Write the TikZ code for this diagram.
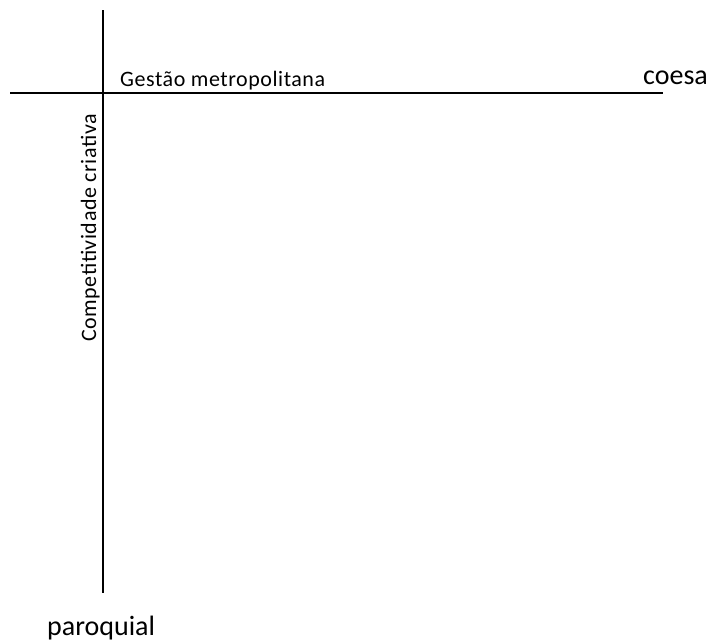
\documentclass[tikz,border=0pt]{standalone}
\usepackage{fontspec}
\setmainfont{Carlito}
\begin{document}
\begin{tikzpicture}[x=1pt,y=-1pt,
  axis/.style={line width=1.5pt,black},
  small/.style={inner sep=0pt,font=\fontsize{22}{25}\selectfont\addfontfeatures{LetterSpace=2.5}},
  big/.style={inner sep=0pt,font=\fontsize{28}{32}\selectfont}]
\useasboundingbox (0,0) rectangle (713,641);
\coordinate (vtop) at (103,10);
\coordinate (vbot) at (103,593);
\coordinate (hl) at (10,93);
\coordinate (hr) at (663,93);
\draw[axis] (vtop) -- (vbot);
\draw[axis] (hl) -- (hr);
\node[small,anchor=base west] (gm) at (120,86) {Gestão metropolitana};
\node[big,anchor=base west] (co) at (643,84) {coesa};
\node[small,anchor=base west,rotate=90] (cc) at (96,342) {Competitividade criativa};
\node[big,anchor=base west] (pa) at (47,635) {paroquial};
\end{tikzpicture}
\end{document}
